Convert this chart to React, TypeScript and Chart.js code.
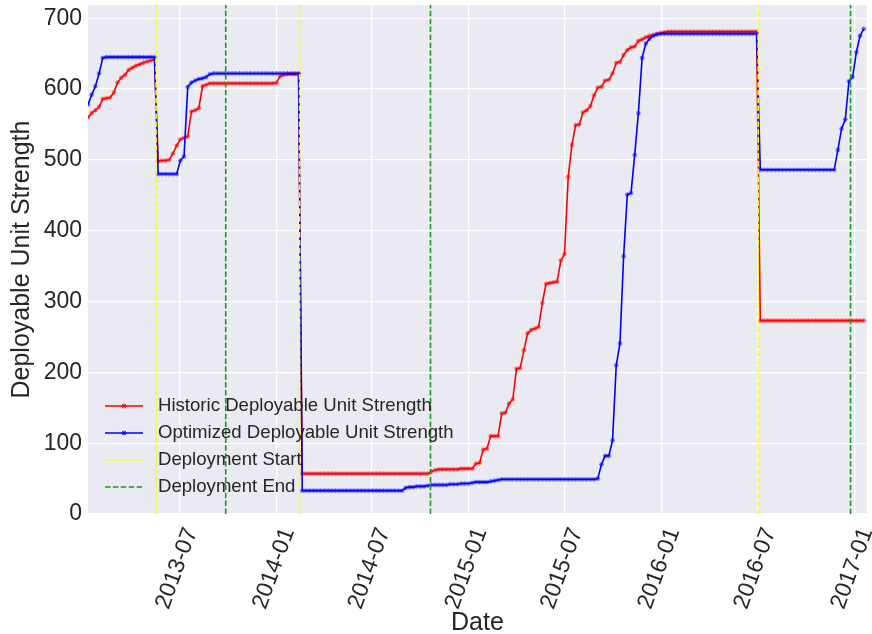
import React, { useEffect, useRef } from 'react';
import { Chart, registerables } from 'chart.js';

Chart.register(...registerables);

// ---------------- data ----------------
const START_DATE = '2013-01-09'; // first weekly observation
const X_MIN = '2013-01-09';
const X_MAX = '2017-01-24';
const Y_MAX = 718.5;

const historic: number[] = [
  560, 566, 570, 575, 586, 587, 588, 595, 609, 616, 620, 627, 630, 633, 635, 637, 639, 640, 642,
  498, 499, 499, 500, 509, 520, 529, 531, 533, 568, 570, 573, 604, 606, 608,
  608, 608, 608, 608, 608, 608, 608, 608, 608, 608,
  608, 608, 608, 608, 608, 608, 608,
  609, 618, 620, 621, 621, 621, 621,
  57, 57, 57, 57, 57, 57, 57, 57, 57, 57,
  57, 57, 57, 57, 57, 57, 57, 57, 57, 57,
  57, 57, 57, 57, 57, 57, 57, 57, 57, 57,
  57, 57, 57, 57, 57,
  60, 62, 63, 63, 63, 63, 63, 63, 64, 64, 64, 64,
  71, 72, 91, 92, 110, 110, 110, 142, 143, 156,
  162, 205, 206, 231, 255, 260, 262, 264, 298, 325,
  326, 327, 328, 358, 367, 476, 521, 549, 550, 567,
  570, 576, 591, 602, 603, 612, 613, 622, 637, 638,
  648, 655, 659, 660, 668, 670, 673, 675, 676, 678,
  679, 680,
  681, 681, 681, 681, 681, 681, 681, 681, 681, 681,
  681, 681, 681, 681, 681, 681, 681, 681, 681, 681,
  681, 681, 681, 681, 681,
  273, 273, 273, 273, 273, 273, 273, 273, 273, 273,
  273, 273, 273, 273, 273, 273, 273, 273, 273, 273,
  273, 273, 273, 273, 273, 273, 273, 273, 273,
];

const optimized: number[] = [
  578, 592, 604, 622, 644,
  645, 645, 645, 645, 645, 645, 645, 645, 645, 645, 645, 645, 645, 645,
  480, 480, 480, 480, 480, 480,
  499, 505, 603, 609, 612, 614, 615, 617, 621,
  622, 622, 622, 622, 622, 622, 622, 622, 622, 622,
  622, 622, 622, 622, 622, 622, 622, 622, 622, 622,
  622, 622, 622, 622,
  33, 33, 33, 33, 33, 33, 33, 33, 33, 33,
  33, 33, 33, 33, 33, 33, 33, 33, 33, 33,
  33, 33, 33, 33, 33, 33, 33, 33,
  37, 38, 38, 39, 39, 39, 40, 41, 41, 41, 41, 41, 42, 42, 42, 43, 43, 43, 44, 45, 45, 45, 45, 46, 47, 48,
  49, 49, 49, 49, 49, 49, 49, 49, 49, 49,
  49, 49, 49, 49, 49, 49, 49, 49, 49, 49,
  49, 49, 49, 49, 49, 49,
  50, 70, 82, 82, 104, 210, 241, 364, 451, 453, 507, 566, 644, 664, 671, 675, 677,
  678, 678, 678, 678, 678, 678, 678, 678, 678, 678,
  678, 678, 678, 678, 678, 678, 678, 678, 678, 678,
  678, 678, 678, 678, 678, 678, 678,
  486, 486, 486, 486, 486, 486, 486, 486, 486, 486,
  486, 486, 486, 486, 486, 486, 486, 486, 486, 486,
  486,
  514, 544, 557, 611, 617, 652, 675, 685,
];

const deploymentStart = ['2013-05-18', '2014-02-14', '2016-07-02'];
const deploymentEnd = ['2013-09-27', '2014-10-20', '2016-12-24'];

const xTickLabels = ['2013-07', '2014-01', '2014-07', '2015-01', '2015-07', '2016-01', '2016-07', '2017-01'];
const yTicks = [0, 100, 200, 300, 400, 500, 600, 700];

const seriesLabels = [
  'Historic Deployable Unit Strength',
  'Optimized Deployable Unit Strength',
  'Deployment Start',
  'Deployment End',
];

// ---------------- helpers ----------------
const DAY = 86400000;
const toMs = (s: string) => {
  const [y, m, d] = s.split('-').map(Number);
  return Date.UTC(y, m - 1, d || 1);
};
const fmtMonth = (v: number) => {
  const dt = new Date(v);
  const m = dt.getUTCMonth() + 1;
  return `${dt.getUTCFullYear()}-${m < 10 ? '0' + m : m}`;
};
const weekDates = historic.map((_, i) => toMs(START_DATE) + i * 7 * DAY);

const vlineData = (dates: string[]) => {
  const out: { x: number; y: number | null }[] = [];
  dates.forEach((d) => {
    const x = toMs(d);
    out.push({ x, y: 0 }, { x, y: Y_MAX }, { x, y: null });
  });
  return out;
};

const FONT = "'Liberation Sans', Arial, Helvetica, sans-serif";
const TEXT = '#262626';
const BG = '#EAEAF2';
const GREEN = '#1a9a1a';

const bgPlugin = {
  id: 'plotBg',
  beforeDraw(chart: any) {
    const { ctx, chartArea: a } = chart;
    ctx.save();
    ctx.fillStyle = BG;
    ctx.fillRect(a.left, a.top, a.right - a.left, a.bottom - a.top);
    ctx.restore();
  },
};

const drawStar = (ctx: CanvasRenderingContext2D, x: number, y: number, r: number) => {
  ctx.beginPath();
  ctx.moveTo(x - r, y);
  ctx.lineTo(x + r, y);
  ctx.moveTo(x, y - r);
  ctx.lineTo(x, y + r);
  const d = r * 0.707;
  ctx.moveTo(x - d, y - d);
  ctx.lineTo(x + d, y + d);
  ctx.moveTo(x - d, y + d);
  ctx.lineTo(x + d, y - d);
  ctx.stroke();
};

const legendPlugin = {
  id: 'mplLegend',
  afterDraw(chart: any) {
    const { ctx, chartArea: a } = chart;
    const rowsFromBottom = [108, 81, 54, 27];
    ctx.save();
    chart.data.datasets.forEach((ds: any, i: number) => {
      const y = a.bottom - rowsFromBottom[i];
      const x0 = a.left + 17;
      const x1 = a.left + 55;
      ctx.strokeStyle = ds.borderColor;
      ctx.lineWidth = ds.borderWidth;
      ctx.setLineDash(ds.borderDash || []);
      ctx.beginPath();
      ctx.moveTo(x0, y);
      ctx.lineTo(x1, y);
      ctx.stroke();
      ctx.setLineDash([]);
      if (ds.pointRadius > 0) {
        ctx.strokeStyle = ds.borderColor;
        ctx.lineWidth = 1;
        drawStar(ctx, (x0 + x1) / 2, y, 2.5);
      }
      ctx.fillStyle = TEXT;
      ctx.font = `18.6px ${FONT}`;
      ctx.textAlign = 'left';
      ctx.textBaseline = 'middle';
      ctx.fillText(ds.label, a.left + 70, y);
    });
    ctx.restore();
  },
};

export default function App() {
  const ref = useRef<HTMLCanvasElement | null>(null);

  useEffect(() => {
    if (!ref.current) return;
    const chart = new Chart(ref.current, {
      type: 'line',
      data: {
        datasets: [
          {
            label: seriesLabels[0],
            data: weekDates.map((x, i) => ({ x, y: historic[i] })),
            borderColor: '#ff0000',
            borderWidth: 1.6,
            pointStyle: 'star',
            pointRadius: 2.4,
            pointBorderWidth: 1.1,
            pointBorderColor: 'rgba(255,0,0,0.55)',
            pointBackgroundColor: 'rgba(255,0,0,0.55)',
            tension: 0,
            order: 2,
          },
          {
            label: seriesLabels[1],
            data: weekDates.map((x, i) => ({ x, y: optimized[i] })),
            borderColor: '#0000ff',
            borderWidth: 1.6,
            pointStyle: 'star',
            pointRadius: 2.4,
            pointBorderWidth: 1.1,
            pointBorderColor: 'rgba(0,0,255,0.55)',
            pointBackgroundColor: 'rgba(0,0,255,0.55)',
            tension: 0,
            order: 1,
          },
          {
            label: seriesLabels[2],
            data: vlineData(deploymentStart),
            borderColor: '#ffff00',
            borderWidth: 1.6,
            borderDash: [5.5, 2.4],
            pointRadius: 0,
            spanGaps: false,
            order: 0,
          },
          {
            label: seriesLabels[3],
            data: vlineData(deploymentEnd),
            borderColor: GREEN,
            borderWidth: 1.6,
            borderDash: [5.5, 2.4],
            pointRadius: 0,
            spanGaps: false,
            order: 0,
          },
        ] as any,
      },
      options: {
        responsive: false,
        devicePixelRatio: 1,
        animation: false,
        events: [],
        layout: { padding: { top: 5, right: 2, left: 0, bottom: 0 } },
        plugins: {
          legend: { display: false },
          tooltip: { enabled: false },
        },
        scales: {
          x: {
            type: 'linear',
            min: toMs(X_MIN),
            max: toMs(X_MAX),
            afterBuildTicks: (scale: any) => {
              scale.ticks = xTickLabels.map((l) => ({ value: toMs(l) }));
            },
            afterFit: (scale: any) => {
              scale.height = 120;
              scale.paddingLeft = 0;
              scale.paddingRight = 0;
            },
            grid: { color: '#ffffff', lineWidth: 1.3, drawTicks: false },
            border: { display: false },
            ticks: {
              autoSkip: false,
              minRotation: 70,
              maxRotation: 70,
              padding: 10,
              labelOffset: 12,
              color: TEXT,
              font: { family: FONT, size: 23 },
              callback: (v: any) => fmtMonth(Number(v)),
            },
            title: {
              display: true,
              text: 'Date',
              color: TEXT,
              font: { family: FONT, size: 25 },
              padding: { top: 0, bottom: -4 },
            },
          },
          y: {
            type: 'linear',
            min: 0,
            max: Y_MAX,
            afterBuildTicks: (scale: any) => {
              scale.ticks = yTicks.map((v) => ({ value: v }));
            },
            afterFit: (scale: any) => {
              scale.width = 88;
              scale.paddingTop = 0;
              scale.paddingBottom = 0;
            },
            grid: { color: '#ffffff', lineWidth: 1.3, drawTicks: false },
            border: { display: false },
            ticks: {
              padding: 6,
              color: TEXT,
              font: { family: FONT, size: 23 },
              callback: (v: any) => String(v),
            },
            title: {
              display: true,
              text: 'Deployable Unit Strength',
              color: TEXT,
              font: { family: FONT, size: 25 },
              padding: { top: 7, bottom: 0 },
            },
          },
        },
      } as any,
      plugins: [bgPlugin, legendPlugin],
    });
    return () => chart.destroy();
  }, []);

  return (
    <div style={{ position: 'absolute', left: 0, top: 0, width: 872, height: 634, background: '#ffffff' }}>
      <canvas ref={ref} width={872} height={634} style={{ display: 'block' }} />
    </div>
  );
}
